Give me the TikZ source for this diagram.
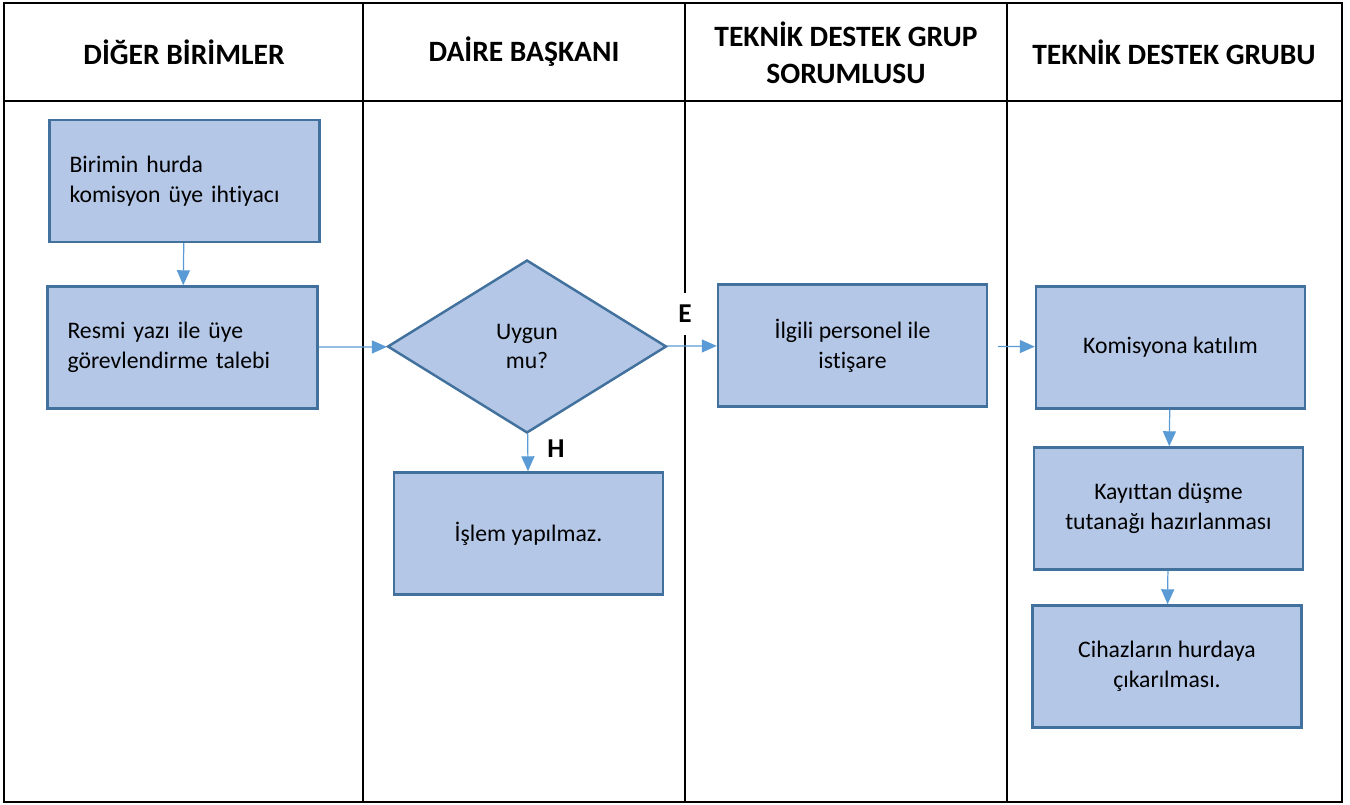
\documentclass[tikz,border=0pt]{standalone}
\usepackage{fontspec}
\setmainfont{Carlito}[Ligatures=NoCommon]
\usetikzlibrary{shapes.geometric, arrows.meta}
\definecolor{boxfill}{HTML}{B4C7E7}
\definecolor{boxline}{HTML}{41719C}
\definecolor{arrowblue}{HTML}{5B9BD5}
\newcommand{\boxfont}{\fontsize{13.5}{17}\selectfont}
\newcommand{\headfont}{\fontsize{16.8}{21}\selectfont\bfseries}
\tikzstyle{process} = [rectangle, minimum width=5.38cm, minimum height=2.44cm, text centered, align=center, draw=boxline, fill=boxfill, line width=1.4pt, font=\boxfont]
\tikzstyle{leftbox} = [process, align=left, text width=4.6cm, inner xsep=0.4cm]
\tikzstyle{decision} = [diamond, minimum width=5.58cm, minimum height=3.46cm, inner sep=0pt, align=center, draw=boxline, fill=boxfill, line width=1.4pt, font=\boxfont]
\tikzstyle{arrow} = [draw=arrowblue, line width=0.7pt, -{Triangle[length=0.3cm,width=0.26cm]}]
\tikzstyle{lanehead} = [align=center, font=\headfont]
\tikzstyle{choice} = [font=\fontsize{15.5}{17}\selectfont\bfseries, fill=white, inner xsep=4pt, inner ysep=7pt]

\begin{document}
\begin{tikzpicture}[x=0.02cm, y=-0.02cm]
\useasboundingbox (0,0) rectangle (1350,805);

% Lanes
\draw [line width=1.4pt] (4,3) rectangle (1342,802);
\draw [line width=1.4pt] (4,101) -- (1342,101);
\draw [line width=1.4pt] (363,3) -- (363,802);
\draw [line width=1.4pt] (685,3) -- (685,802);
\draw [line width=1.4pt] (1007,3) -- (1007,802);

\node (diger) [lanehead] at (184,52) {DİĞER BİRİMLER};
\node (baskan) [lanehead] at (524,52) {DAİRE BAŞKANI};
\node (sorumlu) [lanehead] at (846,53) {TEKNİK DESTEK GRUP\\SORUMLUSU};
\node (grup) [lanehead] at (1174,52) {TEKNİK DESTEK GRUBU};

% Nodes
\node (ihtiyac) [leftbox] at (184.5,181) {Birimin hurda\\komisyon üye ihtiyacı};
\node (talep) [leftbox] at (182.5,347.5) {Resmi yazı ile üye\\görevlendirme talebi};
\node (uygun) [decision] at (527,346.5) {Uygun\\mu?};
\node (islem) [process] at (528.5,533.5) {İşlem yapılmaz.};
\node (istisare) [process] at (852.5,345.5) {İlgili personel ile\\istişare};
\node (katilim) [process] at (1170.5,347.5) {Komisyona katılım};
\node (tutanak) [process] at (1168.5,508.5) {Kayıttan düşme\\tutanağı hazırlanması};
\node (hurda) [process] at (1167,666.5) {Cihazların hurdaya\\çıkarılması.};

% Arrows
\draw [arrow] (ihtiyac) -- (talep);
\draw [arrow] (talep) -- (uygun);
\draw [arrow] (uygun) -- (islem);
\draw [arrow] (uygun) -- (istisare);
\draw [arrow, shorten <=0.2cm] (istisare) -- (katilim);
\draw [arrow] (katilim) -- (tutanak);
\draw [arrow] (tutanak) -- (hurda);

\node (evet) [choice] at (685,314) {E};
\node (hayir) [choice] at (556,449) {H};

\end{tikzpicture}
\end{document}
